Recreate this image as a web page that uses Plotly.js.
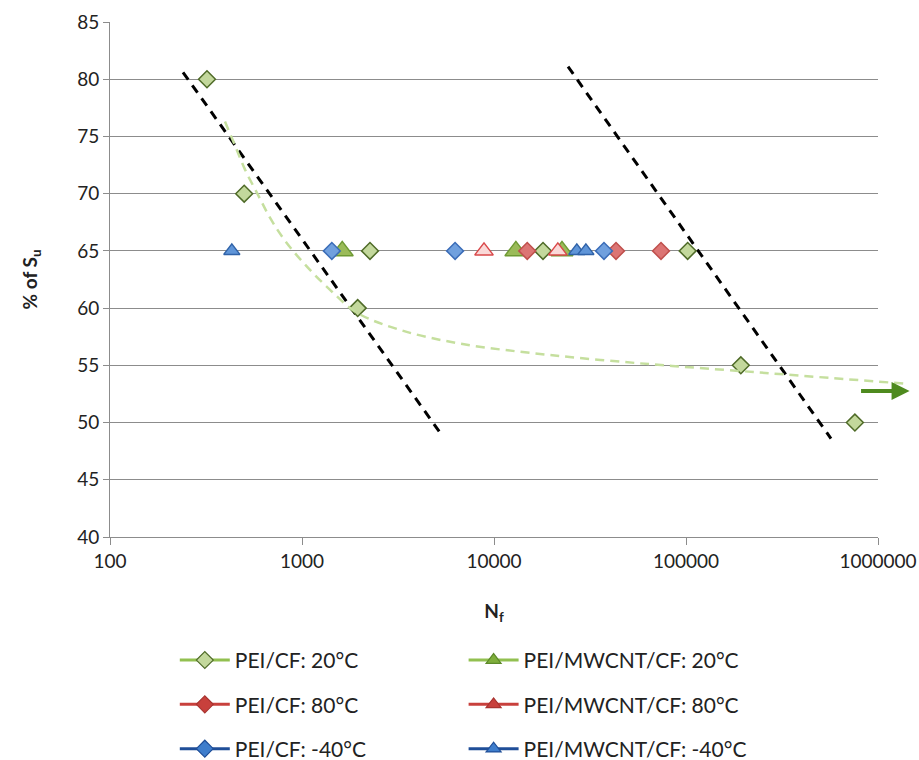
<!DOCTYPE html>
<html>
<head>
<meta charset="utf-8">
<script src="https://cdn.plot.ly/plotly-3.0.1.min.js"></script>
<style>html,body{margin:0;padding:0;background:#fff;}#chart{width:919px;height:760px;}</style>
</head>
<body>
<div id="chart"></div>
<script>
// ---- data ----
const cf20_N = [320, 500, 1950, 2260, 18000, 102000, 193000, 758000];
const cf20_S = [80, 70, 60, 65, 65, 65, 55, 50];
const mw20_N = [1620, 13000, 22600];
const mw20_S = [65, 65, 65];
const cf80_N = [14900, 43200, 74100];
const cf80_S = [65, 65, 65];
const mw80_N = [8870, 21500];
const mw80_S = [65, 65];
const cfm40_N = [1430, 6270, 37400];
const cfm40_S = [65, 65, 65];
const mwm40_N = [431, 27000, 30100];
const mwm40_S = [65, 65, 65];

const band1_N = [240, 5300];
const band1_S = [80.6, 49.0];
const band2_N = [24300, 569000];
const band2_S = [81.1, 48.6];

const trend_N = [397, 448, 505, 590, 681, 815, 1038, 1400, 1933, 3236, 6650, 19570, 64930, 193000, 392000, 1380000];
const trend_S = [76.3, 74.2, 72.1, 69.9, 67.9, 65.9, 63.8, 61.6, 59.6, 58.1, 56.9, 55.9, 55.1, 54.5, 54.1, 53.4];

const xTicks = [100, 1000, 10000, 100000, 1000000];
const xTickText = ['100', '1000', '10000', '100000', '1000000'];

const seriesNames = ['PEI/CF: 20°C', 'PEI/MWCNT/CF: 20°C', 'PEI/CF: 80°C', 'PEI/MWCNT/CF: 80°C', 'PEI/CF: -40°C', 'PEI/MWCNT/CF: -40°C'];

// ---- geometry ----
const plotDomainRight = 0.96;
const ext = 2 + 4 / plotDomainRight;

const FONT = 'Lato, "Open Sans", sans-serif';

const traces = [];

// dashed black bands
traces.push({x: band1_N, y: band1_S, mode: 'lines', line: {color: '#000', width: 3, dash: '9px,7px'}, showlegend: false, hoverinfo: 'skip'});
traces.push({x: band2_N, y: band2_S, mode: 'lines', line: {color: '#000', width: 3, dash: '9px,7px'}, showlegend: false, hoverinfo: 'skip'});
// trend on extended overlay axes
traces.push({x: trend_N, y: trend_S, xaxis: 'x2', yaxis: 'y2', mode: 'lines', line: {color: '#C5DF9E', width: 2.5, dash: '9px,6px', shape: 'spline'}, showlegend: false, hoverinfo: 'skip'});

// data markers
const dataSpec = [
  {x: cf20_N, y: cf20_S, sym: 'diamond', size: 13, fill: '#C3D89C', line: '#4F6B28'},
  {x: mw20_N, y: mw20_S, sym: 'triangle-up', size: 19, fill: '#9BBB59', line: '#6E9A33'},
  {x: cf80_N, y: cf80_S, sym: 'diamond', size: 13, fill: '#DC7574', line: '#C0504D'},
  {x: mw80_N, y: mw80_S, sym: 'triangle-up', size: 16, fill: '#FAD9D8', line: '#D9484A'},
  {x: cfm40_N, y: cfm40_S, sym: 'diamond', size: 13, fill: '#70A0DE', line: '#3B6DB8'},
  {x: mwm40_N, y: mwm40_S, sym: 'triangle-up', size: 14, fill: '#5F95D8', line: '#2F62A8'}
];
dataSpec.forEach(d => {
  traces.push({x: d.x, y: d.y, mode: 'markers', showlegend: false,
    marker: {symbol: d.sym, size: d.size, color: d.fill, line: {color: d.line, width: 1.5}}});
});

// legend entries
const legSpec = [
  {sym: 'diamond', lc: '#92C050', fill: '#C3D89C', ml: '#4F6B28', leg: 'legend'},
  {sym: 'triangle-up', lc: '#92C050', fill: '#7FAE3C', ml: '#5D8A2A', leg: 'legend2'},
  {sym: 'diamond', lc: '#C8403C', fill: '#C8403C', ml: '#A83330', leg: 'legend'},
  {sym: 'triangle-up', lc: '#C8403C', fill: '#C8403C', ml: '#A83330', leg: 'legend2'},
  {sym: 'diamond', lc: '#1F4E98', fill: '#3E7DCC', ml: '#1F4E98', leg: 'legend'},
  {sym: 'triangle-up', lc: '#1F4E98', fill: '#3E7DCC', ml: '#1F4E98', leg: 'legend2'}
];
legSpec.forEach((l, i) => {
  traces.push({x: [null], y: [null], mode: 'lines+markers', name: seriesNames[i], legend: l.leg, legendgroup: 'g' + i,
    line: {color: l.lc, width: 3},
    marker: {symbol: l.sym, size: 13, color: l.fill, line: {color: l.ml, width: 1.2}}});
});

const layout = {
  width: 919, height: 760,
  margin: {l: 110, r: 9, t: 22, b: 223, autoexpand: false},
  paper_bgcolor: '#fff',
  plot_bgcolor: 'rgba(0,0,0,0)',
  font: {family: FONT, size: 19, color: '#222'},
  showlegend: true,
  xaxis: {
    type: 'log', range: [2, 6], domain: [0, plotDomainRight],
    tickvals: xTicks, ticktext: xTickText,
    showgrid: false, zeroline: false,
    showline: true, linecolor: '#8C8C8C', linewidth: 1,
    ticks: 'outside', ticklen: 7, tickcolor: '#8C8C8C',
    tickfont: {family: FONT, size: 19, color: '#222'},
    title: {text: '<b>N<sub>f</sub></b>', font: {family: FONT, size: 19, color: '#222'}, standoff: 33},
    automargin: false
  },
  yaxis: {
    range: [40, 85], dtick: 5, tick0: 40,
    showgrid: true, gridcolor: '#8C8C8C', gridwidth: 1, zeroline: false,
    showline: true, linecolor: '#8C8C8C', linewidth: 1,
    ticks: 'outside', ticklen: 6, tickcolor: '#8C8C8C',
    tickfont: {family: FONT, size: 19, color: '#222'},
    title: {text: '<b>% of S<sub>u</sub></b>', font: {family: FONT, size: 19, color: '#222'}, standoff: 34},
    automargin: false
  },
  xaxis2: {type: 'log', range: [2, ext], domain: [0, 1], anchor: 'y2', visible: false, showgrid: false, zeroline: false},
  yaxis2: {range: [40, 85], domain: [0, 1], anchor: 'x2', visible: false, showgrid: false, zeroline: false},
  legend: {xref: 'paper', yref: 'container', x: 0.081, y: 0.158, xanchor: 'left', yanchor: 'top', orientation: 'v', tracegroupgap: 14,
    itemwidth: 50, bgcolor: 'rgba(0,0,0,0)', font: {family: FONT, size: 21, color: '#222'}},
  legend2: {xref: 'paper', yref: 'container', x: 0.442, y: 0.158, xanchor: 'left', yanchor: 'top', orientation: 'v', tracegroupgap: 14,
    itemwidth: 50, bgcolor: 'rgba(0,0,0,0)', font: {family: FONT, size: 21, color: '#222'}},
  annotations: [{
    xref: 'x2', yref: 'y2', x: Math.log10(1460000), y: 52.75, text: '',
    showarrow: true, arrowhead: 2, arrowsize: 0.9, arrowwidth: 4, arrowcolor: '#4E8A1E',
    axref: 'pixel', ayref: 'pixel', ax: -50, ay: 0
  }]
};

Plotly.newPlot('chart', traces, layout, {displayModeBar: false, staticPlot: true});
</script>
</body>
</html>
